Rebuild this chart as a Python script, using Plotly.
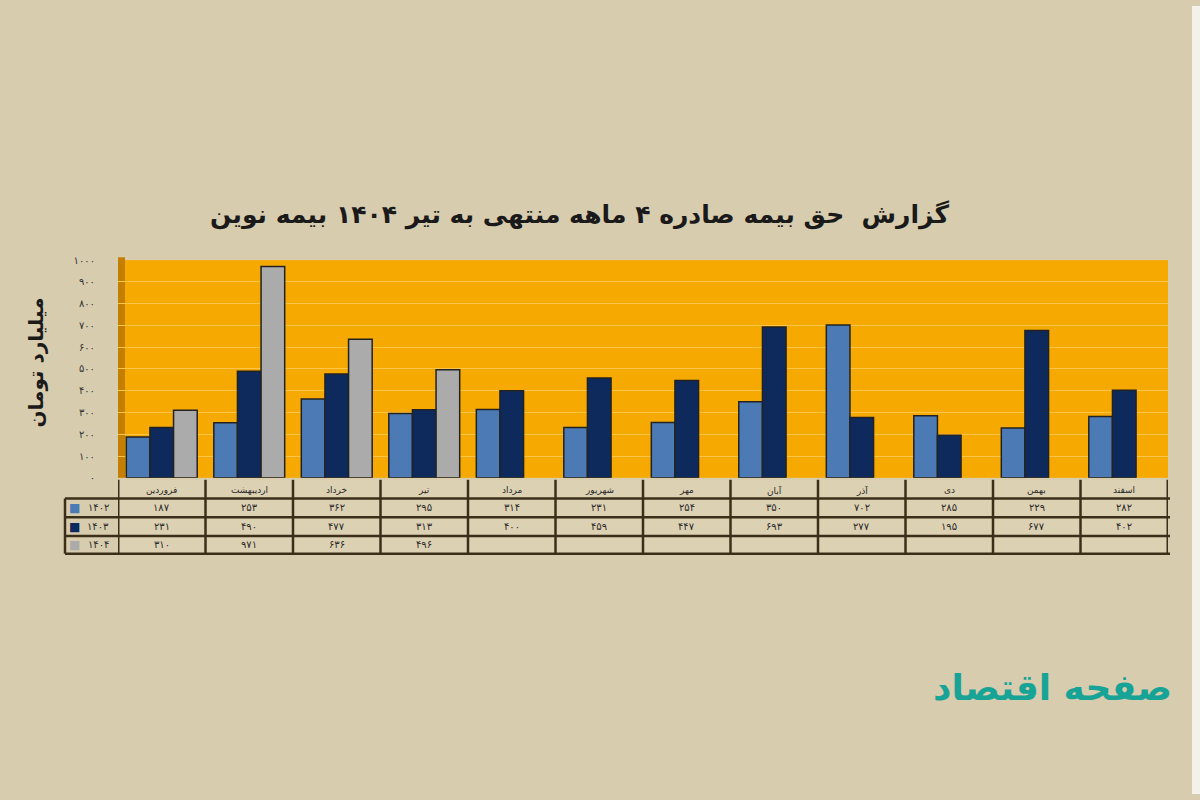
import plotly.graph_objects as go

months = ["فروردین", "اردیبهشت", "خرداد", "تیر", "مرداد", "شهریور",
          "مهر", "آبان", "آذر", "دی", "بهمن", "اسفند"]
years = ["۱۴۰۲", "۱۴۰۳", "۱۴۰۴"]
v1402 = [187, 253, 362, 295, 314, 231, 254, 350, 702, 285, 229, 282]
v1403 = [231, 490, 477, 313, 400, 459, 447, 693, 277, 195, 677, 402]
v1404 = [310, 971, 636, 496, None, None, None, None, None, None, None, None]
y_ticks = [0, 100, 200, 300, 400, 500, 600, 700, 800, 900, 1000]

title = "گزارش  حق بیمه صادره ۴ ماهه منتهی به تیر ۱۴۰۴ بیمه نوین"
y_title = "میلیارد تومان"
logo = "صفحه اقتصاد"

colors = ["#4C7AB4", "#0E2A5C", "#ABABAB"]
series = [v1402, v1403, v1404]

W, H = 1200, 800
def px(x):
    return x / W
def py(y):
    return 1 - y / H

FA = str.maketrans("0123456789", "۰۱۲۳۴۵۶۷۸۹")
def fa(n):
    return str(n).translate(FA)

FONT = "DejaVu Sans"
BG = "#D8CCAE"
LINE = "#3B2F1A"

fig = go.Figure()
for name, vals, c in zip(years, series, colors):
    fig.add_trace(go.Bar(
        x=months, y=vals, name=name,
        marker=dict(color=c, line=dict(color="#222222", width=1.5)),
        showlegend=False,
    ))

plot_top, plot_bot = 258, 479
x_left, x_right = 118, 1168

fig.update_layout(
    width=W, height=H,
    margin=dict(l=0, r=0, t=0, b=0),
    paper_bgcolor=BG,
    plot_bgcolor="#F6A900",
    barmode="group",
    bargap=0.19,
    bargroupgap=0.0,
    xaxis=dict(domain=[px(x_left), px(x_right)], type="category",
               categoryorder="array", categoryarray=months,
               showticklabels=False, showgrid=False, zeroline=False,
               range=[-0.5, 11.5]),
    yaxis=dict(domain=[py(plot_bot), py(plot_top)], range=[0, 1000],
               tickvals=y_ticks, ticktext=[fa(t) for t in y_ticks],
               tickfont=dict(family=FONT, size=10, color="#333333"),
               gridcolor="#FFC54A", gridwidth=1, zeroline=False,
               ticklabelstandoff=22, showline=False),
)

shapes = []
# left 3D wall of plot
shapes.append(dict(type="rect", xref="paper", yref="paper",
                   x0=px(x_left), x1=px(x_left + 7), y0=py(plot_bot), y1=py(plot_top - 3),
                   fillcolor="#C47F00", line=dict(width=0), layer="below"))
# table
t_top, r1, r2, r3, t_bot = 481, 500, 519, 538, 556
t_left = 65
shapes.append(dict(type="rect", xref="paper", yref="paper",
                   x0=px(x_left), x1=px(x_right), y0=py(t_bot), y1=py(t_top),
                   fillcolor="#DDD1B3", line=dict(width=0), layer="below"))
for yy in [r1, r2, r3, t_bot]:
    shapes.append(dict(type="line", xref="paper", yref="paper",
                       x0=px(t_left), x1=px(x_right + 2), y0=py(yy), y1=py(yy),
                       line=dict(color=LINE, width=2.5)))
for k in range(len(months) + 1):
    shapes.append(dict(type="line", xref="x", yref="paper",
                       x0=k - 0.5, x1=k - 0.5, y0=py(t_bot), y1=py(t_top),
                       line=dict(color=LINE, width=3 if k in (0, len(months)) else 2.5)))
shapes.append(dict(type="line", xref="paper", yref="paper",
                   x0=px(t_left), x1=px(t_left), y0=py(t_bot), y1=py(r1),
                   line=dict(color=LINE, width=2.5)))
# right white edge
shapes.append(dict(type="rect", xref="paper", yref="paper",
                   x0=px(1192), x1=1, y0=0, y1=1,
                   fillcolor="#F4F1EA", line=dict(width=0)))

def ann(text, x, y, size, color="#2A2A2A", xref="paper", **kw):
    d = dict(text=text, x=x, y=y, xref=xref, yref="paper", showarrow=False,
             xanchor="center", yanchor="middle",
             font=dict(family=FONT, size=size, color=color))
    d.update(kw)
    return d

anns = []
anns.append(ann("<b>" + title + "</b>", px(580), py(212), 25, "#1A1A1A"))
anns.append(ann("<b>" + y_title + "</b>", px(36), py(362), 20, "#1A1A1A", textangle=-90))
for m in months:
    anns.append(ann(m, m, py((t_top + r1) / 2 + 1), 9, xref="x"))
row_centers = [(r1 + r2) / 2, (r2 + r3) / 2, (r3 + t_bot) / 2]
for yr, vals, c, rc in zip(years, series, colors, row_centers):
    anns.append(ann("■", px(74), py(rc), 12, c))
    anns.append(ann(yr, px(98), py(rc), 10))
    for m, v in zip(months, vals):
        if v is None:
            continue
        anns.append(ann(fa(v), m, py(rc), 10, xref="x"))
anns.append(ann("<b>" + logo + "</b>", px(1052), py(692), 36, "#17A396"))

fig.update_layout(shapes=shapes, annotations=anns)
fig.write_html("out.html", config={"displayModeBar": False},
               post_script="document.body.style.margin='0';")
